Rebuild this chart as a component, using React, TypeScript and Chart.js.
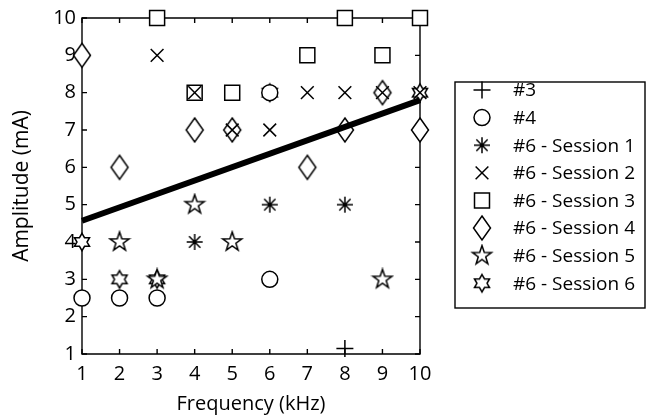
import React, { useEffect, useRef } from "react";
import { Chart, registerables } from "chart.js";
import { drawPoint } from "chart.js/helpers";

Chart.register(...registerables);

// ---- data ----
const xTicks = [1, 2, 3, 4, 5, 6, 7, 8, 9, 10];
const yTicks = [1, 2, 3, 4, 5, 6, 7, 8, 9, 10];

const subject3X = [8];
const subject3Y = [1.15];

const subject4X = [1, 2, 3, 6, 6];
const subject4Y = [2.5, 2.5, 2.5, 3, 8];

const session1X = [4, 6, 8];
const session1Y = [4, 5, 5];

const session2X = [3, 4, 5, 6, 7, 8, 9, 10];
const session2Y = [9, 8, 7, 7, 8, 8, 8, 8];

const session3X = [3, 4, 5, 7, 8, 9, 10];
const session3Y = [10, 8, 8, 9, 10, 9, 10];

const session4X = [1, 2, 4, 5, 7, 8, 9, 10];
const session4Y = [9, 6, 7, 7, 6, 7, 8, 7];

const session5X = [2, 3, 4, 5, 9];
const session5Y = [4, 3, 5, 4, 3];

const session6X = [1, 2, 3, 6, 10];
const session6Y = [4, 3, 3, 8, 8];

const fitX = [1, 10];
const fitY = [4.57, 7.8];

const seriesLabels = [
  "#3",
  "#4",
  "#6 - Session 1",
  "#6 - Session 2",
  "#6 - Session 3",
  "#6 - Session 4",
  "#6 - Session 5",
  "#6 - Session 6",
];

const FONT = '"Open Sans", "DejaVu Sans", sans-serif';

function toPoints(xs: number[], ys: number[]) {
  return xs.map((x, i) => ({ x, y: ys[i] }));
}

function makeMarker(w: number, h: number, path: (ctx: CanvasRenderingContext2D) => void) {
  const c = document.createElement("canvas");
  c.width = w;
  c.height = h;
  const ctx = c.getContext("2d")!;
  ctx.translate(w / 2, h / 2);
  ctx.lineWidth = 1.5;
  ctx.strokeStyle = "#000";
  ctx.fillStyle = "#fff";
  ctx.lineJoin = "miter";
  path(ctx);
  return c;
}

function starPath(ctx: CanvasRenderingContext2D, n: number, R: number, r: number) {
  ctx.beginPath();
  for (let i = 0; i < 2 * n; i++) {
    const a = -Math.PI / 2 + (i * Math.PI) / n;
    const rad = i % 2 === 0 ? R : r;
    const px = Math.cos(a) * rad;
    const py = Math.sin(a) * rad;
    if (i === 0) ctx.moveTo(px, py);
    else ctx.lineTo(px, py);
  }
  ctx.closePath();
  ctx.fill();
  ctx.stroke();
}

export default function App() {
  const ref = useRef<HTMLCanvasElement | null>(null);

  useEffect(() => {
    if (!ref.current) return;

    const diamond = makeMarker(22, 28, (ctx) => {
      ctx.beginPath();
      ctx.moveTo(0, -12);
      ctx.lineTo(8.5, 0);
      ctx.lineTo(0, 12);
      ctx.lineTo(-8.5, 0);
      ctx.closePath();
      ctx.fill();
      ctx.stroke();
    });
    const pentagram = makeMarker(24, 24, (ctx) => starPath(ctx, 5, 10, 3.9));
    const hexagram = makeMarker(22, 22, (ctx) => starPath(ctx, 6, 8.7, 8.7 / Math.sqrt(3)));
    const asterisk = makeMarker(20, 20, (ctx) => {
      ctx.beginPath();
      for (let k = 0; k < 4; k++) {
        const a = (k * Math.PI) / 4;
        ctx.moveTo(-Math.cos(a) * 8, -Math.sin(a) * 8);
        ctx.lineTo(Math.cos(a) * 8, Math.sin(a) * 8);
      }
      ctx.stroke();
    });

    const base = {
      borderColor: "#000",
      backgroundColor: "#fff",
      borderWidth: 1.5,
      clip: false as const,
    };

    const datasets: any[] = [
      { ...base, label: seriesLabels[0], data: toPoints(subject3X, subject3Y), pointStyle: "cross", pointRadius: 8.5 },
      { ...base, label: seriesLabels[1], data: toPoints(subject4X, subject4Y), pointStyle: "circle", pointRadius: 8 },
      { ...base, label: seriesLabels[2], data: toPoints(session1X, session1Y), pointStyle: asterisk, pointRadius: 8 },
      { ...base, label: seriesLabels[3], data: toPoints(session2X, session2Y), pointStyle: "crossRot", pointRadius: 9 },
      { ...base, label: seriesLabels[4], data: toPoints(session3X, session3Y), pointStyle: "rect", pointRadius: 10.6 },
      { ...base, label: seriesLabels[5], data: toPoints(session4X, session4Y), pointStyle: diamond, pointRadius: 9 },
      { ...base, label: seriesLabels[6], data: toPoints(session5X, session5Y), pointStyle: pentagram, pointRadius: 10 },
      { ...base, label: seriesLabels[7], data: toPoints(session6X, session6Y), pointStyle: hexagram, pointRadius: 9 },
      {
        label: "fit",
        data: toPoints(fitX, fitY),
        showLine: true,
        borderColor: "#000",
        borderWidth: 6,
        pointRadius: 0,
        clip: false,
        order: -1,
        isFit: true,
      },
    ];

    const boxPlugin = {
      id: "boxAndTicks",
      beforeDatasetsDraw(chart: any) {
        const { ctx, chartArea } = chart;
        const xs = chart.scales.x;
        const ys = chart.scales.y;
        const L = chartArea.left, R = chartArea.right, T = chartArea.top, B = chartArea.bottom;
        ctx.save();
        ctx.strokeStyle = "#000";
        ctx.lineWidth = 1.4;
        ctx.beginPath();
        ctx.rect(L, T, R - L, B - T);
        ctx.stroke();
        const tl = 5;
        ctx.beginPath();
        xTicks.forEach((v) => {
          const px = xs.getPixelForValue(v);
          ctx.moveTo(px, B);
          ctx.lineTo(px, B - tl);
          ctx.moveTo(px, T);
          ctx.lineTo(px, T + tl);
        });
        yTicks.forEach((v) => {
          const py = ys.getPixelForValue(v);
          ctx.moveTo(L, py);
          ctx.lineTo(L + tl, py);
          ctx.moveTo(R, py);
          ctx.lineTo(R - tl, py);
        });
        ctx.stroke();
        ctx.restore();
      },
    };

    const legendPlugin = {
      id: "boxedLegend",
      afterDraw(chart: any) {
        const { ctx } = chart;
        const bx = 455, by = 82, bw = 190, bh = 226;
        ctx.save();
        ctx.fillStyle = "#fff";
        ctx.fillRect(bx, by, bw, bh);
        ctx.strokeStyle = "#000";
        ctx.lineWidth = 1.4;
        ctx.strokeRect(bx, by, bw, bh);
        const items = chart.data.datasets.filter((d: any) => !d.isFit);
        items.forEach((d: any, i: number) => {
          const cy = 90 + i * 27.6;
          ctx.strokeStyle = "#000";
          ctx.fillStyle = "#fff";
          ctx.lineWidth = 1.5;
          drawPoint(ctx, { pointStyle: d.pointStyle, radius: d.pointRadius, rotation: 0, borderWidth: 1.5 } as any, 482, cy);
          ctx.fillStyle = "#000";
          ctx.font = `19px ${FONT}`;
          ctx.textAlign = "left";
          ctx.textBaseline = "middle";
          ctx.fillText(d.label, 513, cy + 1);
        });
        ctx.restore();
      },
    };

    const chart = new Chart(ref.current, {
      type: "scatter",
      data: { datasets },
      options: {
        animation: false,
        responsive: false,
        layout: { padding: { top: 15, right: 238, left: 0, bottom: 0 } },
        plugins: { legend: { display: false }, tooltip: { enabled: false } },
        scales: {
          x: {
            type: "linear",
            min: 1,
            max: 10,
            afterFit: (s: any) => {
              s.height = 66;
            },
            ticks: {
              stepSize: 1,
              color: "#000",
              padding: 8,
              font: { family: FONT, size: 20 },
            },
            grid: { display: false, drawTicks: false },
            border: { display: false },
            title: {
              display: true,
              text: "Frequency (kHz)",
              color: "#000",
              font: { family: FONT, size: 20 },
              padding: { top: 0, bottom: 4 },
            },
          },
          y: {
            type: "linear",
            min: 1,
            max: 10,
            afterFit: (s: any) => {
              s.width = 82;
            },
            ticks: {
              stepSize: 1,
              color: "#000",
              padding: 6,
              font: { family: FONT, size: 20 },
            },
            grid: { display: false, drawTicks: false },
            border: { display: false },
            title: {
              display: true,
              text: "Amplitude (mA)",
              color: "#000",
              font: { family: FONT, size: 21 },
              padding: { top: 9, bottom: 0 },
            },
          },
        },
      },
      plugins: [boxPlugin, legendPlugin],
    });

    return () => chart.destroy();
  }, []);

  return (
    <div style={{ position: "fixed", left: 0, top: 0, width: 658, height: 420, background: "#fff" }}>
      <canvas ref={ref} width={658} height={420} style={{ display: "block" }} />
    </div>
  );
}
